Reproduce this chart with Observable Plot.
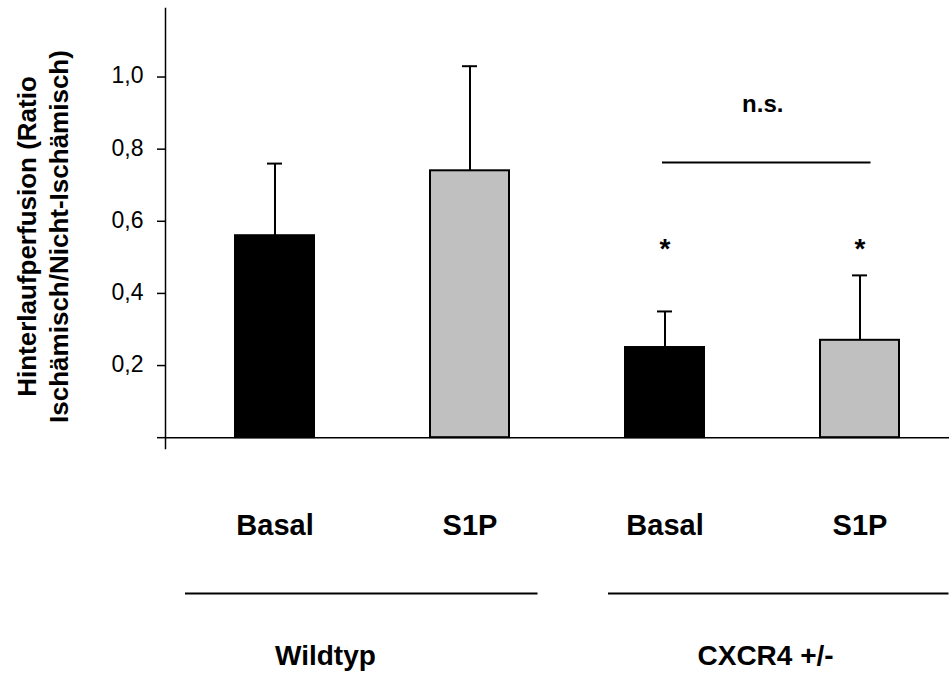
<!DOCTYPE html>
<html>
<head>
<meta charset="utf-8">
<script src="https://cdn.jsdelivr.net/npm/d3@7"></script>
<script src="https://cdn.jsdelivr.net/npm/@observablehq/plot@0.6"></script>
<style>
  html, body { margin: 0; padding: 0; background: #ffffff; }
  #chart svg { display: block; }
</style>
</head>
<body>
<div id="chart"></div>
<script>
// ---- data ----
const ids = ["wt-basal", "wt-s1p", "cx-basal", "cx-s1p"];
const treatments = ["Basal", "S1P", "Basal", "S1P"];
const genotypes = ["Wildtyp", "Wildtyp", "CXCR4 +/-", "CXCR4 +/-"];
const means = [0.56, 0.74, 0.25, 0.27];
const errors = [0.20, 0.29, 0.10, 0.18];
const significant = [false, false, true, true];
const groupNames = ["Wildtyp", "CXCR4 +/-"];
const comparisonPair = ["cx-basal", "cx-s1p"];
const comparisonLabel = "n.s.";
const yTicks = [0, 0.2, 0.4, 0.6, 0.8, 1.0];
const yTickLabels = ["", "0,2", "0,4", "0,6", "0,8", "1,0"];
const yTitle = "Hinterlaufperfusion (Ratio\nIschämisch/Nicht-Ischämisch)";

const rows = ids.map((id, i) => ({
  id, treatment: treatments[i], genotype: genotypes[i],
  mean: means[i], err: errors[i], sig: significant[i]
}));
const tickRows = yTicks.map((v, i) => ({v, label: yTickLabels[i]}));

// ---- layout constants ----
const FONT = "'Liberation Sans', Arial, Helvetica, sans-serif";
const starLevel = 0.523;
const bracketLevel = 0.763;
const bracketLabelLevel = 0.923;
const groupLineLevel = -0.432;
const groupRuleInsets = [[-50, -28.5], [-17, -49.5]];
const groupLabelDx = [0, 32.5];

const groupMarks = groupNames.flatMap((g, gi) => {
  const members = ids.filter((id, i) => genotypes[i] === g);
  return [
    Plot.ruleY([g], {
      y: () => groupLineLevel,
      x1: () => members[0],
      x2: () => members[members.length - 1],
      insetLeft: groupRuleInsets[gi][0],
      insetRight: groupRuleInsets[gi][1],
      stroke: "black", strokeWidth: 2
    }),
    Plot.text([g], {
      x: () => members[0],
      frameAnchor: "bottom",
      text: d => d,
      textAnchor: "start",
      dx: groupLabelDx[gi],
      dy: 216,
      fontSize: 28, fontWeight: "bold", fill: "black"
    })
  ];
});

const plot = Plot.plot({
  width: 949,
  height: 684,
  marginLeft: 165,
  marginRight: 0,
  marginTop: 8,
  marginBottom: 236,
  style: {fontFamily: FONT, background: "white", color: "black", overflow: "visible"},
  x: {type: "band", domain: ids, paddingInner: 0.596, paddingOuter: 0.303, align: 0.582},
  y: {domain: [-0.03, 1.19]},
  color: {domain: ["Basal", "S1P"], range: ["#000000", "#c0c0c0"]},
  marks: [
    Plot.frame({anchor: "left", stroke: "black", strokeWidth: 1.5}),
    Plot.ruleY([0], {stroke: "black", strokeWidth: 1.5}),
    Plot.ruleX(rows, {x: "id", y1: "mean", y2: d => d.mean + d.err, stroke: "black", strokeWidth: 2}),
    Plot.tickY(rows, {x: "id", y: d => d.mean + d.err, stroke: "black", strokeWidth: 2, insetLeft: 32, insetRight: 32}),
    Plot.barY(rows, {x: "id", y: "mean", fill: "treatment", stroke: "black", strokeWidth: 2}),
    Plot.text(rows.filter(d => d.sig), {x: "id", y: () => starLevel, text: () => "*", fontSize: 28, fontWeight: "bold", fill: "black"}),
    Plot.ruleY([comparisonLabel], {
      y: () => bracketLevel, x1: () => comparisonPair[0], x2: () => comparisonPair[1],
      insetLeft: 37, insetRight: 28.5, stroke: "black", strokeWidth: 2
    }),
    Plot.text([comparisonLabel], {
      x: () => comparisonPair[0], y: () => bracketLabelLevel, dx: 97.75,
      text: d => d, fontSize: 24, fontWeight: "bold", fill: "black"
    }),
    Plot.axisY({
      ticks: yTicks, tickSize: 8, label: null, strokeWidth: 1.5,
      tickFormat: () => ""
    }),
    Plot.text(tickRows, {
      y: "v", text: "label", frameAnchor: "left", textAnchor: "end", dx: -22, dy: -1,
      fontSize: 23, fill: "black"
    }),
    Plot.axisX({
      tickSize: 0, tickPadding: 66, fontSize: 29, fontWeight: "bold", label: null,
      tickFormat: id => treatments[ids.indexOf(id)]
    }),
    Plot.text([yTitle], {
      frameAnchor: "left", rotate: -90, dx: -124, dy: 8, textAnchor: "middle",
      text: d => d, fontSize: 26, fontWeight: "bold", lineHeight: 1.23, fill: "black"
    }),
    ...groupMarks
  ]
});

document.getElementById("chart").appendChild(plot);
</script>
</body>
</html>
